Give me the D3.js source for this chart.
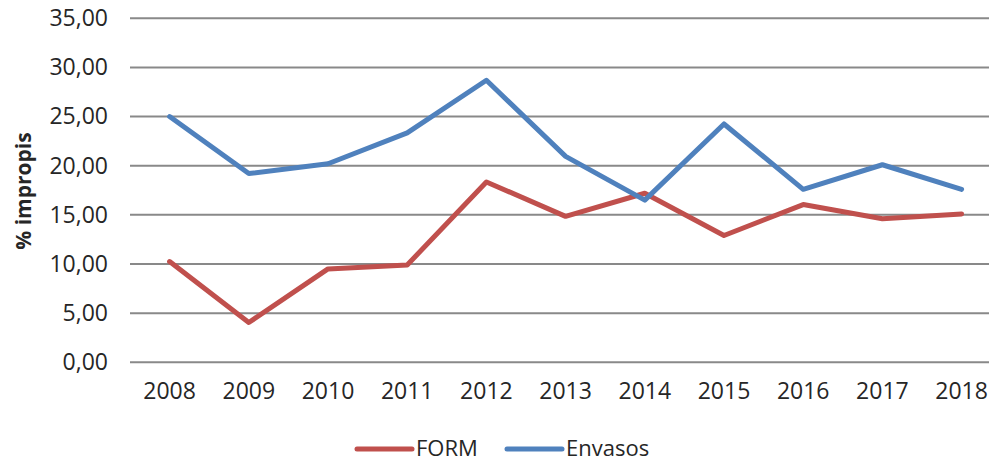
<!DOCTYPE html>
<html>
<head>
<meta charset="utf-8">
<script src="https://cdn.jsdelivr.net/npm/d3@7"></script>
<style>
  body { margin: 0; background: #fff; }
  text { font-family: "Open Sans", sans-serif; fill: #262626; }
</style>
</head>
<body>
<svg id="chart" width="989" height="463"></svg>
<script>
var years = ['2008','2009','2010','2011','2012','2013','2014','2015','2016','2017','2018'],
formVals = [10.25, 4.05, 9.5, 9.9, 18.35, 14.85, 17.2, 12.9, 16.05, 14.6, 15.1],
envasosVals = [25.0, 19.2, 20.2, 23.35, 28.7, 20.95, 16.5, 24.25, 17.6, 20.1, 17.6],
yTicks = [0, 5, 10, 15, 20, 25, 30, 35],
seriesNames = ['FORM', 'Envasos'],
seriesColors = ['#C0504D', '#4F81BD']

var width = 989,
height = 463,
plotLeft = 130,
plotTop = 18.3,
plotBottom = 362.3,
svg = d3.select("#chart")

var xScale = d3.scaleBand()
	.domain(years)
	.range([plotLeft, plotLeft + 11 * 79.2])

var yScale = d3.scaleLinear()
	.domain([0, 35])
	.range([plotBottom, plotTop])

function fmt(v) { return d3.format(".2f")(v).replace(".", ","); }

// gridlines
svg.append("g")
	.attr("class", "grid")
	.selectAll("line")
	.data(yTicks)
	.enter()
	.append("line")
	.attr("x1", plotLeft)
	.attr("x2", width)
	.attr("y1", function(d) { return yScale(d); })
	.attr("y2", function(d) { return yScale(d); })
	.attr("stroke", "#898989")
	.attr("stroke-width", 2)

// y axis labels
var yAxis = d3.axisLeft(yScale).tickValues(yTicks).tickFormat(fmt).tickSize(0).tickPadding(0)
var yg = svg.append("g")
	.attr("transform", "translate(108,0)")
	.call(yAxis)
yg.select(".domain").remove()
yg.selectAll("text")
	.attr("font-size", "23px")
	.attr("font-family", "Open Sans")
	.attr("fill", "#262626")

// x axis labels
var xAxis = d3.axisBottom(xScale).tickSize(0).tickPadding(0)
var xg = svg.append("g")
	.attr("transform", "translate(0,383)")
	.call(xAxis)
xg.select(".domain").remove()
xg.selectAll("text")
	.attr("font-size", "23px")
	.attr("font-family", "Open Sans")
	.attr("fill", "#262626")

// y title
svg.append("text")
	.attr("transform", "translate(31,191) rotate(-90)")
	.attr("text-anchor", "middle")
	.attr("font-size", "21px")
	.attr("font-weight", 700)
	.text("% impropis")

// lines
var line = d3.line()
	.x(function(d, i) { return xScale(years[i]) + xScale.bandwidth() / 2; })
	.y(function(d) { return yScale(d); })

var allSeries = [formVals, envasosVals]
svg.append("g")
	.attr("class", "series")
	.selectAll("path")
	.data(allSeries)
	.enter()
	.append("path")
	.attr("d", function(d) { return line(d); })
	.attr("fill", "none")
	.attr("stroke", function(d, i) { return seriesColors[i]; })
	.attr("stroke-width", 5)
	.attr("stroke-linejoin", "round")
	.attr("stroke-linecap", "round")

// legend
var legendX = [357, 507]
var legend = svg.append("g").attr("class", "legend")
	.selectAll("g")
	.data(seriesNames)
	.enter()
	.append("g")
	.attr("transform", function(d, i) { return "translate(" + legendX[i] + ",449)"; })
legend.append("line")
	.attr("x1", 0)
	.attr("x2", 55)
	.attr("stroke", function(d, i) { return seriesColors[i]; })
	.attr("stroke-width", 5)
	.attr("stroke-linecap", "round")
legend.append("text")
	.attr("x", 59)
	.attr("y", 0)
	.attr("dy", "0.33em")
	.attr("font-size", "22px")
	.text(function(d) { return d; })
</script>
</body>
</html>
